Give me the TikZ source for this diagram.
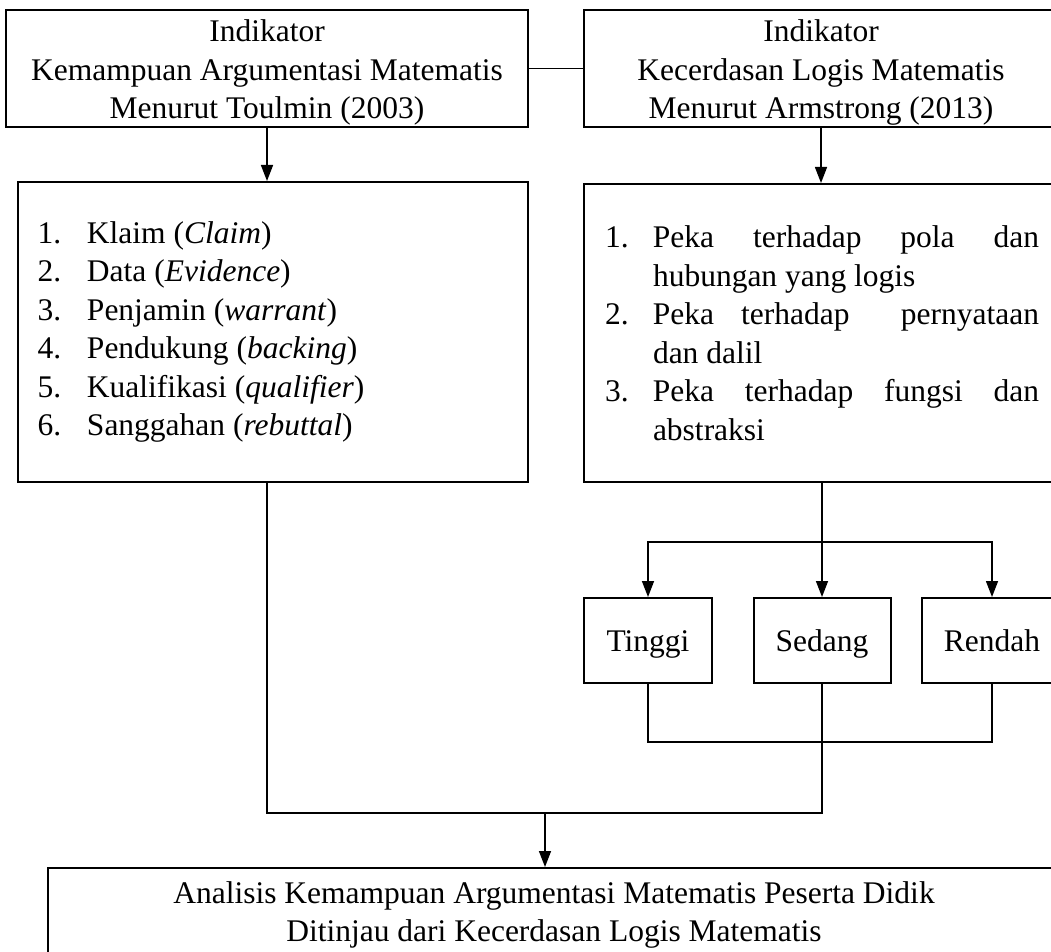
\documentclass[tikz,border=0pt]{standalone}
\usepackage{fontspec}
\setmainfont{Liberation Serif}
\usetikzlibrary{arrows.meta}
\newcommand\mysize{\fontsize{31.5}{38.5}\selectfont}
\newcommand\tophi{\rule{0pt}{30.4pt}}
\newcommand\toplo{\rule[-7pt]{0pt}{7pt}}
\newcommand\bothi{\rule{0pt}{25.5pt}}
\newcommand\botlo{\rule[-7pt]{0pt}{7pt}}
\begin{document}
\begin{tikzpicture}[x=1pt,y=-1pt,
  box/.style={draw, line width=2pt, inner sep=0pt, align=center, font=\mysize},
  listbox/.style={draw, line width=2pt, inner sep=0pt, font=\mysize},
  levelbox/.style={box, minimum height=85pt, text height=21pt, text depth=0pt},
  conn/.style={line width=1.5pt},
  arr/.style={conn, -{Triangle[length=16pt,width=12pt]}}]
\useasboundingbox (0,0) rectangle (1051,952);
\clip (0,0) rectangle (1051,952);
% top boxes
\node[box, minimum width=522pt, minimum height=117pt] (tl) at (267,68.5)
  {\tophi Indikator\\Kemampuan Argumentasi Matematis\\Menurut Toulmin (2003)\toplo};
\node[box, minimum width=474pt, minimum height=117pt] (tr) at (821,68.5)
  {\tophi Indikator\\Kecerdasan Logis Matematis\\Menurut Armstrong (2013)\toplo};
% list boxes
\node[listbox, minimum width=510pt, minimum height=300pt] (ll) at (273,332)
  {\parbox{471pt}{\mysize\raggedright
   \makebox[49.5pt][l]{1.}Klaim (\textit{Claim})\\
   \makebox[49.5pt][l]{2.}Data (\textit{Evidence})\\
   \makebox[49.5pt][l]{3.}Penjamin (\textit{warrant})\\
   \makebox[49.5pt][l]{4.}Pendukung (\textit{backing})\\
   \makebox[49.5pt][l]{5.}Kualifikasi (\textit{qualifier})\\
   \makebox[49.5pt][l]{6.}Sanggahan (\textit{rebuttal})}};
\node[listbox, minimum width=476pt, minimum height=298pt] (rl) at (822,333)
  {\parbox{434pt}{\mysize\raggedright
   \makebox[48pt][l]{1.}\makebox[386pt][s]{Peka terhadap pola dan}\\
   \hspace*{48pt}hubungan yang logis\\
   \makebox[48pt][l]{2.}\makebox[386pt][l]{Peka\hspace{27pt}terhadap\hfill pernyataan}\\
   \hspace*{48pt}dan dalil\\
   \makebox[48pt][l]{3.}\makebox[386pt][s]{Peka terhadap fungsi dan}\\
   \hspace*{48pt}abstraksi}};
% level boxes
\node[levelbox, minimum width=128pt] (tinggi) at (648,640.5) {Tinggi};
\node[levelbox, minimum width=137pt] (sedang) at (822,640.5) {Sedang};
\node[levelbox, minimum width=140pt] (rendah) at (992,640.5) {Rendah};
% bottom box
\node[box, minimum width=1012pt, minimum height=90pt] (bot) at (554,913)
  {\bothi Analisis Kemampuan Argumentasi Matematis Peserta Didik\\Ditinjau dari Kecerdasan Logis Matematis\botlo};
% helper coordinates
\coordinate (br) at (821,542);
\coordinate (bk) at (821,742);
\coordinate (join) at (545,813);
% connectors
\draw[conn] (tl.east) -- (tr.west);
\draw[arr] (tl.south) -- (tl.south |- ll.north);
\draw[arr] (tr.south) -- (tr.south |- rl.north);
\draw[arr] (rl.south) -- (sedang.north);
\draw[arr] (br) -| (tinggi.north);
\draw[arr] (br) -| (rendah.north);
\draw[conn] (tinggi.south) |- (bk) -| (rendah.south);
\draw[conn] (tl.south |- ll.south) |- (join);
\draw[conn] (sedang.south) |- (join);
\draw[arr] (join) -- (join |- bot.north);
\end{tikzpicture}
\end{document}
